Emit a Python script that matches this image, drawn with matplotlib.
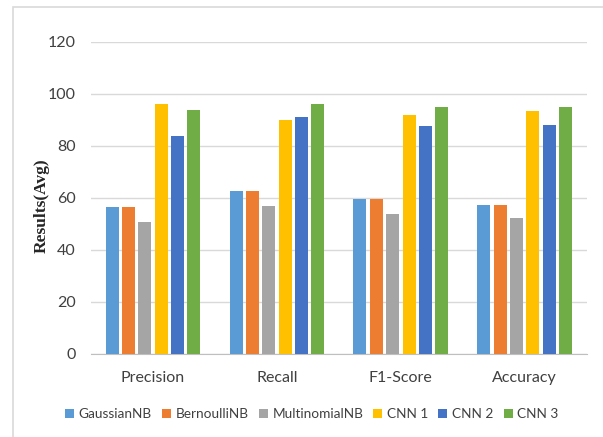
import numpy as np
import matplotlib
matplotlib.use("Agg")
import matplotlib.pyplot as plt
from matplotlib.patches import Rectangle

metrics = ["Precision", "Recall", "F1-Score", "Accuracy"]
models = ["GaussianNB", "BernoulliNB", "MultinomialNB", "CNN 1", "CNN 2", "CNN 3"]
colors = ["#5B9BD5", "#ED7D31", "#A5A5A5", "#FFC000", "#4472C4", "#70AD47"]

gaussian_nb = [56.5, 62.7, 59.6, 57.3]
bernoulli_nb = [56.5, 62.7, 59.6, 57.3]
multinomial_nb = [50.8, 57.0, 53.8, 52.3]
cnn_1 = [96.0, 90.0, 92.0, 93.5]
cnn_2 = [84.0, 91.0, 87.7, 88.0]
cnn_3 = [94.0, 96.0, 95.0, 95.0]

series = [gaussian_nb, bernoulli_nb, multinomial_nb, cnn_1, cnn_2, cnn_3]

plt.rcParams["font.family"] = ["Lato", "DejaVu Sans"]

fig = plt.figure(figsize=(6.03, 4.37), dpi=100)
ax = fig.add_axes([0.151, 0.19, 0.822, 0.714])

# light frame around the chart area
fig.patches.append(Rectangle((13 / 603, -0.01), 1.0, 1 - 7 / 437 + 0.01,
                             transform=fig.transFigure, fill=False,
                             edgecolor="#D9D9D9", linewidth=1.2))

x = np.arange(len(metrics))
step = 0.132
width = 0.105
for i, (name, vals, c) in enumerate(zip(models, series, colors)):
    ax.bar(x + (i - 2.5) * step, vals, width, color=c, label=name, zorder=3)

ax.set_xlim(-0.5, 3.5)
ax.set_ylim(0, 120)
ax.set_yticks(range(0, 121, 20))
ax.set_xticks(x)
ax.set_xticklabels(metrics, fontsize=11.5, color="#404040")
ax.tick_params(axis="y", labelsize=11.5, labelcolor="#404040", length=0, pad=11)
ax.tick_params(axis="x", length=0, pad=12)
ax.grid(axis="y", color="#D9D9D9", linewidth=1, zorder=0)
for side in ["top", "right", "left"]:
    ax.spines[side].set_visible(False)
ax.spines["bottom"].set_color("#BFBFBF")

fig.text(42 / 603, 1 - 206 / 437, "Results(Avg)", rotation=90, ha="center",
         va="center", fontsize=12.5, fontweight="bold",
         family="Liberation Serif", color="#262626")

fig.legend(loc="center", bbox_to_anchor=(0.517, 1 - 414 / 437), ncol=6,
           frameon=False, fontsize=9.8, handlelength=0.65, handleheight=0.65,
           handletextpad=0.35, columnspacing=0.75, labelcolor="#404040")

fig.savefig("out.png", dpi=100)
